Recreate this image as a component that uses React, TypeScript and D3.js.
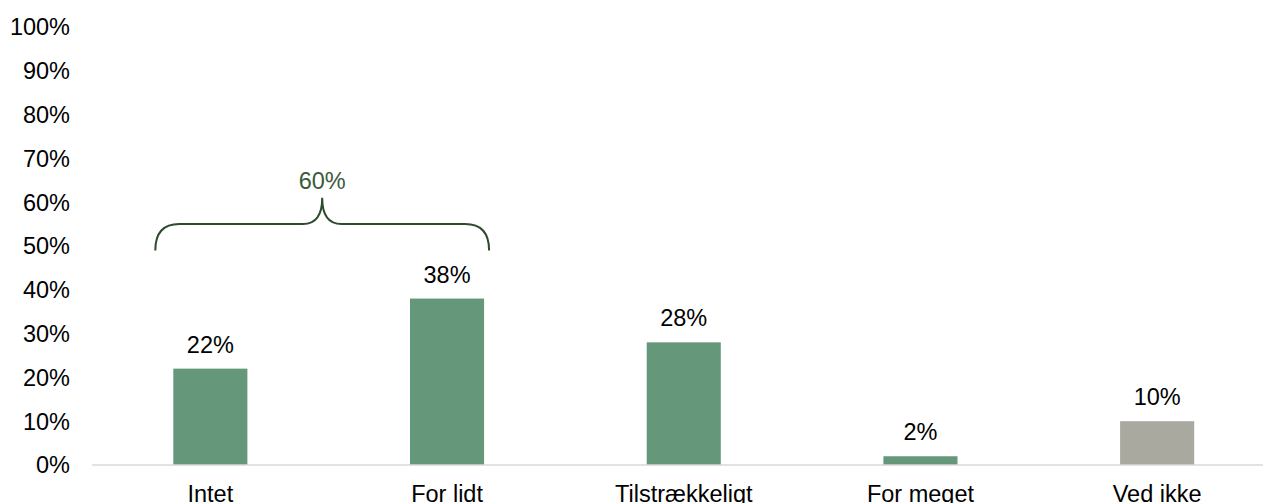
import React from "react";
import * as d3 from "d3";

const categories = ["Intet", "For lidt", "Tilstrækkeligt", "For meget", "Ved ikke"];
const values = [22, 38, 28, 2, 10];
const barColors = ["#65987A", "#65987A", "#65987A", "#65987A", "#A9A99F"];
const yTicks = [0, 10, 20, 30, 40, 50, 60, 70, 80, 90, 100];
const braceLabel = "60%";

const W = 1263;
const H = 503;
const FONT = "Liberation Sans, Arial, sans-serif";
const FS = 23.5;

export default function App() {
  const x = d3
    .scaleBand<string>()
    .domain(categories)
    .range([92, 92 + 5 * 236.7])
    .paddingInner(0.687)
    .paddingOuter(0.3435);
  const y = d3.scaleLinear().domain([0, 100]).range([465, 27]);
  const bw = x.bandwidth();

  // brace geometry based on scale
  const bx0 = (x("Intet") as number) - 18;
  const bx1 = (x("For lidt") as number) + bw + 5;
  const bmid = (bx0 + bx1) / 2;
  const yEnd = y(49);
  const yBar = y(55);
  const yPeak = y(61);
  const r = 24;
  const bracePath = d3.path();
  bracePath.moveTo(bx0, yEnd);
  bracePath.quadraticCurveTo(bx0, yBar, bx0 + r, yBar);
  bracePath.lineTo(bmid - r * 0.8, yBar);
  bracePath.quadraticCurveTo(bmid, yBar, bmid, yPeak);
  bracePath.quadraticCurveTo(bmid, yBar, bmid + r * 0.8, yBar);
  bracePath.lineTo(bx1 - r, yBar);
  bracePath.quadraticCurveTo(bx1, yBar, bx1, yEnd);

  return (
    <svg
      width={W}
      height={H}
      style={{ position: "absolute", left: 0, top: 0, background: "#fff" }}
      fontFamily={FONT}
    >
      {yTicks.map((t) => (
        <text
          key={t}
          x={70}
          y={y(t)}
          dy="0.36em"
          textAnchor="end"
          fontSize={FS}
          fill="#000"
        >
          {t}%
        </text>
      ))}
      {categories.map((c, i) => (
        <g key={c}>
          <rect
            x={x(c)}
            y={y(values[i])}
            width={bw}
            height={y(0) - y(values[i])}
            fill={barColors[i]}
          />
          <text
            x={(x(c) as number) + bw / 2}
            y={y(values[i]) - 16}
            textAnchor="middle"
            fontSize={FS}
            fill="#000"
          >
            {values[i]}%
          </text>
          <text
            x={(x(c) as number) + bw / 2}
            y={502}
            textAnchor="middle"
            fontSize={FS}
            fill="#000"
          >
            {c}
          </text>
        </g>
      ))}
      <line x1={92} x2={W} y1={y(0)} y2={y(0)} stroke="#d9d9d9" strokeWidth={1.5} />
      <path d={bracePath.toString()} fill="none" stroke="#2f4a2f" strokeWidth={2} />
      <text
        x={bmid}
        y={y(65)}
        dy="0.36em"
        textAnchor="middle"
        fontSize={FS}
        fill="#3a5a3a"
      >
        {braceLabel}
      </text>
    </svg>
  );
}
